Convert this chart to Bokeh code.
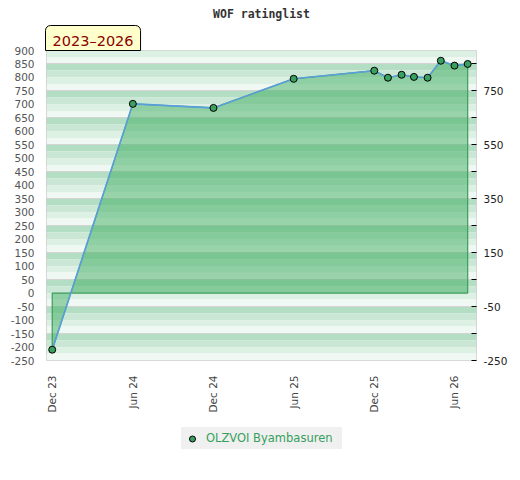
import math
import pandas as pd
from bokeh.plotting import figure
from bokeh.layouts import column
from bokeh.models import (Range1d, LinearAxis, FixedTicker, DatetimeTickFormatter,
                          NumeralTickFormatter, Title, Legend, LegendItem,
                          ColumnDataSource)
from bokeh.embed import file_html
from bokeh.resources import INLINE

# ---------------- data ----------------
TITLE = "WOF ratinglist"
PERIOD = "2023–2026"
PLAYER = "OLZVOI Byambasuren"

dates = ["2023-12-01", "2024-06-01", "2024-12-01", "2025-06-01", "2025-12-01",
         "2026-01-01", "2026-02-01", "2026-03-01", "2026-04-01", "2026-05-01",
         "2026-06-01", "2026-07-01"]
ratings = [-210, 702, 687, 795, 825, 799, 810, 802, 799, 862, 844, 850]

x_tick_dates = ["2023-12-01", "2024-06-01", "2024-12-01", "2025-06-01",
                "2025-12-01", "2026-06-01"]
left_ticks = [-250, -200, -150, -100, -50, 0, 50, 100, 150, 200, 250, 300, 350,
              400, 450, 500, 550, 600, 650, 700, 750, 800, 850, 900]
right_major = [-250, -50, 150, 350, 550, 750]
right_minor = [-150, 50, 250, 450, 650, 850]
grid_values = [850, 750, 650, 550, 450, 350, 250, 150, 50, -50, -150]

FONT = "DejaVu Sans"
POINT_FILL = "#3aa060"


def ms(d):
    return pd.Timestamp(d).value / 1e6


xs = [ms(d) for d in dates]
x_start, x_end = ms("2023-11-18"), ms("2026-07-21")
y_start, y_end = -250, 900

p = figure(width=520, height=420, x_axis_type="datetime",
           x_range=Range1d(x_start, x_end), y_range=Range1d(y_start, y_end),
           output_backend="svg", toolbar_location=None,
           min_border_left=46, min_border_right=44, min_border_top=50,
           min_border_bottom=60, background_fill_color="white",
           border_fill_color="white", outline_line_color="#cfcfcf",
           outline_line_width=1)
p.grid.visible = False

# striped background: 4 shades per 100-unit band below each grid line
stripe_colors = ["#b4dec3", "#c9e7d4", "#ddf0e4", "#f0f8f3"]
s_y0, s_y1, s_c = [], [], []
for g in [950] + grid_values:
    for k, c in enumerate(stripe_colors):
        s_y1.append(g - 25 * k)
        s_y0.append(g - 25 * (k + 1))
        s_c.append(c)
p.hstrip(y0=s_y0, y1=s_y1, fill_color=s_c, line_color=None)
p.hspan(y=grid_values, line_color="#d4d4d4", line_width=1)

# filled area between the rating line and zero
area_x = [xs[0]] + xs + [xs[-1]]
area_y = [0] + ratings + [0]
p.patch(area_x, area_y, fill_color="#40ad62", fill_alpha=0.5,
        line_color="#3c9c5c", line_width=1.2)

src = ColumnDataSource(dict(x=xs, y=ratings))
p.line("x", "y", source=src, line_color="#5a9fdc", line_width=1.6)
p.scatter("x", "y", source=src, size=7, fill_color=POINT_FILL,
          line_color="black", line_width=1)

# axes
xa = p.xaxis[0]
xa.ticker = FixedTicker(ticks=[ms(d) for d in x_tick_dates])
fmt = "%b %y"
xa.formatter = DatetimeTickFormatter(microseconds=fmt, milliseconds=fmt, seconds=fmt,
                                     minsec=fmt, minutes=fmt, hourmin=fmt, hours=fmt,
                                     days=fmt, months=fmt, years=fmt)
xa.major_label_orientation = math.pi / 2
xa.major_label_standoff = 15
xa.major_tick_in = 0
xa.major_tick_out = 0
xa.minor_tick_in = 0
xa.minor_tick_out = 0
xa.axis_line_color = None
xa.major_label_text_font = FONT
xa.major_label_text_font_size = "10.5px"
xa.major_label_text_color = "#444444"

ya = p.yaxis[0]
ya.ticker = FixedTicker(ticks=left_ticks)
ya.formatter = NumeralTickFormatter(format="0")
ya.major_label_standoff = 12
ya.major_tick_in = 0
ya.major_tick_out = 0
ya.minor_tick_in = 0
ya.minor_tick_out = 0
ya.axis_line_color = None
ya.major_label_text_font = FONT
ya.major_label_text_font_size = "10.5px"
ya.major_label_text_color = "#555555"

ra = LinearAxis(ticker=FixedTicker(ticks=right_major, minor_ticks=right_minor),
                formatter=NumeralTickFormatter(format="0"))
ra.major_tick_in = 5
ra.major_tick_out = 0
ra.minor_tick_in = 5
ra.minor_tick_out = 0
ra.major_tick_line_color = "black"
ra.minor_tick_line_color = "black"
ra.axis_line_color = None
ra.major_label_standoff = 7
ra.major_label_text_font = FONT
ra.major_label_text_font_size = "10.5px"
ra.major_label_text_color = "#222222"
p.add_layout(ra, "right")

# title and period tag (stacked above the frame)
p.title = Title(text=TITLE, align="center", text_font="DejaVu Sans Mono",
                text_font_size="11.5px", text_font_style="bold",
                text_color="#333333", standoff=5, offset=0)
tag = Title(text=PERIOD, align="left", text_font=FONT, text_font_size="14.5px",
            text_font_style="normal", text_color="#8b0000",
            background_fill_color="#ffffcc", border_line_color="black",
            border_line_width=1, standoff=0, offset=-1,
            padding=dict(left=7, right=7, top=7, bottom=2),
            border_radius=dict(top_left=5, top_right=5,
                               bottom_right=0, bottom_left=0))
p.add_layout(tag, "above")

# legend strip below the chart (its own renderer of the same series,
# kept out of view so only the legend is shown)
pl = figure(width=520, height=60, title=None, output_backend="svg",
            toolbar_location=None, x_axis_location=None, y_axis_location=None,
            x_range=Range1d(0, 1), y_range=Range1d(0, 1),
            min_border_left=0, min_border_right=0, min_border_top=0,
            min_border_bottom=0, outline_line_color=None,
            background_fill_color="white", border_fill_color="white")
pl.grid.visible = False
leg_r = pl.scatter("x", "y", source=src, size=7, fill_color=POINT_FILL,
                   line_color="black", line_width=1)
legend = Legend(items=[LegendItem(label=PLAYER, renderers=[leg_r])],
                location=(135, 31), orientation="horizontal",
                background_fill_color="#f0f0f0", background_fill_alpha=1,
                border_line_color=None, padding=0, margin=0,
                glyph_width=22, glyph_height=15, label_height=22,
                label_width=136, label_standoff=3, label_text_font=FONT,
                label_text_font_size="11.5px", label_text_color="#35a05a")
pl.add_layout(legend)

open("out.html", "w").write(file_html(column(p, pl, spacing=0), INLINE))
